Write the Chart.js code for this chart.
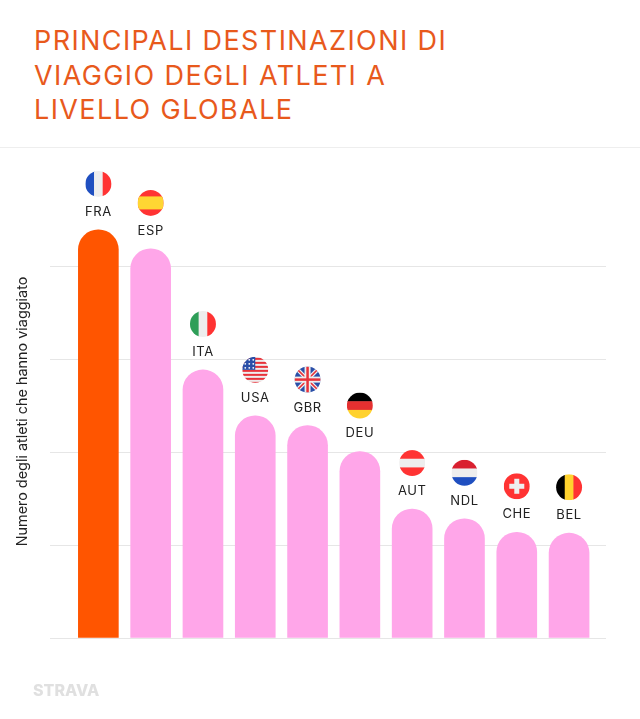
<!DOCTYPE html>
<html>
<head>
<meta charset="utf-8">
<title>Principali destinazioni di viaggio</title>
<script src="https://cdn.jsdelivr.net/npm/chart.js@4"></script>
<style>
  html, body { margin: 0; padding: 0; background: #fff; }
  #page { position: relative; width: 640px; height: 719px; overflow: hidden; font-family: Inter, sans-serif; }
  #title { position: absolute; left: 34px; top: 24px; margin: 0; font-size: 27px; font-weight: 400; line-height: 34.5px; letter-spacing: 1.4px; color: #e8591c; white-space: nowrap; }
  #rule { position: absolute; left: 0; top: 147px; width: 640px; height: 1px; background: #eeeeee; }
  #logo { position: absolute; left: 33px; top: 681px; font-size: 16px; font-weight: 800; line-height: 19px; color: #e0e0e0; letter-spacing: 0; }
  canvas { position: absolute; left: 0; top: 0; }
</style>
</head>
<body>
<div id="page">
  <h1 id="title">PRINCIPALI DESTINAZIONI DI<br>VIAGGIO DEGLI ATLETI A<br>LIVELLO GLOBALE</h1>
  <div id="rule"></div>
  <canvas id="chart" width="640" height="719"></canvas>
  <div id="logo">STRAVA</div>
</div>
<script>
const countries = ["FRA", "ESP", "ITA", "USA", "GBR", "DEU", "AUT", "NDL", "CHE", "BEL"];
const athletes = [4400, 4195, 2890, 2395, 2290, 2010, 1390, 1285, 1140, 1130];
const barColors = ["#ff5500", "#ffa6e9", "#ffa6e9", "#ffa6e9", "#ffa6e9", "#ffa6e9", "#ffa6e9", "#ffa6e9", "#ffa6e9", "#ffa6e9"];
const axisTitle = "Numero degli atleti che hanno viaggiato";

const RED = "#ff3333", BLUE = "#1f4fc0", WHITE = "#eeeeee";

// stripes: [direction, colours]
const flagStripes = {
  FRA: ["v", [BLUE, WHITE, RED]],
  ESP: ["es", [RED, "#ffd633", RED]],
  ITA: ["v", ["#2e9e58", WHITE, RED]],
  DEU: ["h", ["#000000", "#e53030", "#ffd22e"]],
  AUT: ["h", [RED, WHITE, RED]],
  NDL: ["h", ["#d9202f", WHITE, BLUE]],
  BEL: ["v", ["#000000", "#ffd22e", RED]]
};

function drawUsa(ctx, x, y, r) {
  ctx.fillStyle = WHITE;
  ctx.fillRect(x - r, y - r, r * 2, r * 2);
  ctx.fillStyle = "#e8323a";
  for (let i = 0; i < 7; i++) {
    ctx.fillRect(x - r, y - r + i * 4 + 1, r * 2, 2);
  }
  ctx.fillStyle = "#2a4fa8";
  ctx.fillRect(x - r, y - r, r, r);
  ctx.fillStyle = "#fff";
  for (let i = 0; i < 3; i++) {
    for (let j = 0; j < 3; j++) {
      ctx.beginPath();
      ctx.arc(x - r + 3 + j * 4, y - r + 3 + i * 4, 0.9, 0, Math.PI * 2);
      ctx.fill();
    }
  }
}

function drawGbr(ctx, x, y, r) {
  ctx.fillStyle = "#2a4fa8";
  ctx.fillRect(x - r, y - r, r * 2, r * 2);
  const cross = (color, w) => {
    ctx.strokeStyle = color;
    ctx.lineWidth = w;
    ctx.beginPath();
    ctx.moveTo(x - r, y - r); ctx.lineTo(x + r, y + r);
    ctx.moveTo(x + r, y - r); ctx.lineTo(x - r, y + r);
    ctx.stroke();
  };
  const plus = (color, w) => {
    ctx.fillStyle = color;
    ctx.fillRect(x - w / 2, y - r, w, r * 2);
    ctx.fillRect(x - r, y - w / 2, r * 2, w);
  };
  cross(WHITE, 4);
  cross("#e8323a", 1.5);
  plus(WHITE, 6);
  plus("#e8323a", 2.5);
}

function drawChe(ctx, x, y, r) {
  ctx.fillStyle = RED;
  ctx.fillRect(x - r, y - r, r * 2, r * 2);
  ctx.fillStyle = WHITE;
  ctx.fillRect(x - 2.5, y - 7.5, 5, 15);
  ctx.fillRect(x - 7.5, y - 2.5, 15, 5);
}

function drawFlag(ctx, code, x, y, r) {
  ctx.save();
  ctx.beginPath();
  ctx.arc(x, y, r, 0, Math.PI * 2);
  ctx.clip();
  if (code === "USA") drawUsa(ctx, x, y, r);
  else if (code === "GBR") drawGbr(ctx, x, y, r);
  else if (code === "CHE") drawChe(ctx, x, y, r);
  else {
    const [dir, colors] = flagStripes[code];
    if (dir === "v") {
      colors.forEach((c, i) => {
        ctx.fillStyle = c;
        ctx.fillRect(x - r + i * (r * 2 / 3), y - r, r * 2 / 3 + 0.5, r * 2);
      });
    } else if (dir === "h") {
      colors.forEach((c, i) => {
        ctx.fillStyle = c;
        ctx.fillRect(x - r, y - r + i * (r * 2 / 3), r * 2, r * 2 / 3 + 0.5);
      });
    } else {
      // spanish flag has a double height middle band
      ctx.fillStyle = colors[0];
      ctx.fillRect(x - r, y - r, r * 2, r * 2);
      ctx.fillStyle = colors[1];
      ctx.fillRect(x - r, y - r / 2, r * 2, r);
    }
  }
  ctx.restore();
}

const flagLabels = {
  id: "flagLabels",
  afterDatasetsDraw(chart) {
    const ctx = chart.ctx;
    const xs = chart.scales.x, ys = chart.scales.y;
    ctx.save();
    ctx.font = "400 13px Inter, sans-serif";
    ctx.letterSpacing = "0.6px";
    ctx.fillStyle = "#222222";
    ctx.textAlign = "center";
    ctx.textBaseline = "middle";
    countries.forEach((code, i) => {
      const x = xs.getPixelForValue(i);
      const top = ys.getPixelForValue(athletes[i]);
      ctx.fillText(code, x, top - 18);
      drawFlag(ctx, code, x, top - 46, 13);
    });
    ctx.restore();
  }
};

new Chart(document.getElementById("chart"), {
  type: "bar",
  plugins: [flagLabels],
  data: {
    datasets: [{
      data: athletes.map((v, i) => ({ x: i, y: v })),
      backgroundColor: barColors,
      barThickness: 40,
      borderRadius: { topLeft: 20, topRight: 20, bottomLeft: 0, bottomRight: 0 },
      borderSkipped: false
    }]
  },
  options: {
    responsive: false,
    animation: false,
    layout: { padding: { top: 185, bottom: 81, right: 34, left: 14 } },
    plugins: { legend: { display: false }, tooltip: { enabled: false } },
    scales: {
      x: {
        type: "linear",
        display: false,
        offset: false,
        min: -0.925,
        max: 9.706
      },
      y: {
        min: 0,
        max: 4884,
        afterBuildTicks(axis) {
          axis.ticks = [0, 1000, 2000, 3000, 4000].map(value => ({ value }));
        },
        ticks: { display: false },
        border: { display: false },
        grid: { color: "#e6e6e6", lineWidth: 1, drawTicks: false },
        title: {
          display: true,
          text: axisTitle,
          color: "#222222",
          font: { family: "Inter, sans-serif", size: 14.4 },
          padding: { top: 0, bottom: 18.7 }
        }
      }
    }
  }
});
</script>
</body>
</html>
